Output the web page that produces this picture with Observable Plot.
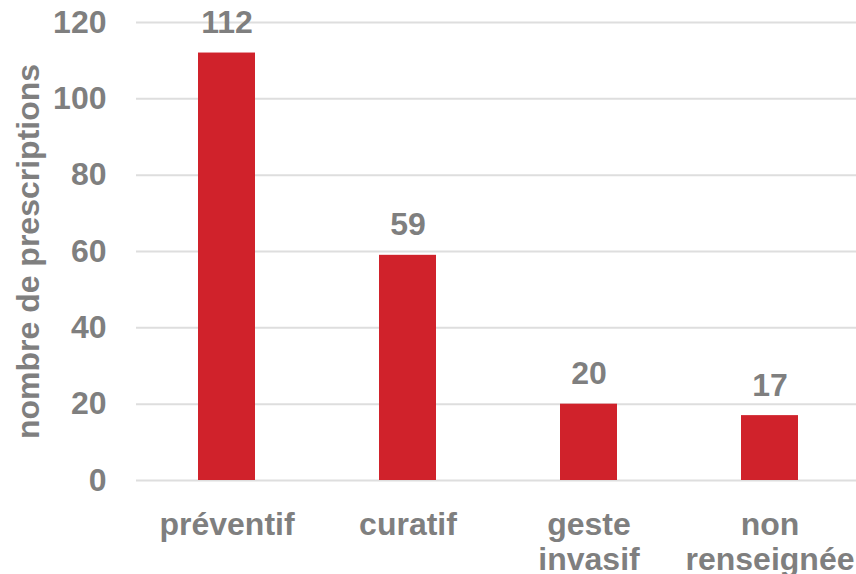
<!DOCTYPE html>
<html>
<head>
<meta charset="utf-8">
<script src="https://cdn.jsdelivr.net/npm/d3@7"></script>
<script src="https://cdn.jsdelivr.net/npm/@observablehq/plot@0.6"></script>
<style>
  html, body { margin: 0; padding: 0; background: #fff; }
</style>
</head>
<body>
<div id="chart"></div>
<script>
// Prescriptions by type of procedure
const categories = ["préventif", "curatif", "geste invasif", "non renseignée"];
const values = [112, 59, 20, 17];
const yTicks = [0, 20, 40, 60, 80, 100, 120];
const yLabel = "nombre de prescriptions";

const rows = categories.map((c, i) => ({category: c, count: values[i]}));

const textColor = "#7f7f7f";
const barColor = "#d0222b";
const fs = 32;

const chart = Plot.plot({
  width: 856,
  height: 574,
  marginTop: 22,
  marginBottom: 94,
  marginLeft: 136,
  marginRight: -4,
  style: {
    fontFamily: "'Liberation Sans', Arial, sans-serif",
    fontWeight: "bold",
    fontSize: fs + "px",
    color: textColor,
    background: "#fff"
  },
  x: {domain: categories, paddingInner: 0.685, paddingOuter: 0.3425},
  y: {domain: [0, 120]},
  marks: [
    Plot.gridY(yTicks, {stroke: "#dedede", strokeOpacity: 1, strokeWidth: 2}),
    Plot.barY(rows, {x: "category", y: "count", fill: barColor}),
    Plot.text(rows, {
      x: "category", y: "count", text: d => String(d.count),
      lineAnchor: "bottom", dy: -20, fill: textColor, fontSize: fs, fontWeight: "bold"
    }),
    Plot.axisY({
      ticks: yTicks, tickSize: 0, tickPadding: 30, label: null,
      fontSize: fs, fill: textColor
    }),
    Plot.axisX({
      tickSize: 0, tickPadding: 29, label: null, lineHeight: 1.1,
      tickFormat: d => d.replace(" ", "\n"),
      fontSize: fs, fill: textColor
    }),
    Plot.text([yLabel], {
      frameAnchor: "left", text: d => d, rotate: -90, dx: -108,
      textAnchor: "middle", lineAnchor: "middle", fill: textColor,
      fontSize: fs, fontWeight: "bold"
    })
  ]
});

document.getElementById("chart").appendChild(chart);
</script>
</body>
</html>
